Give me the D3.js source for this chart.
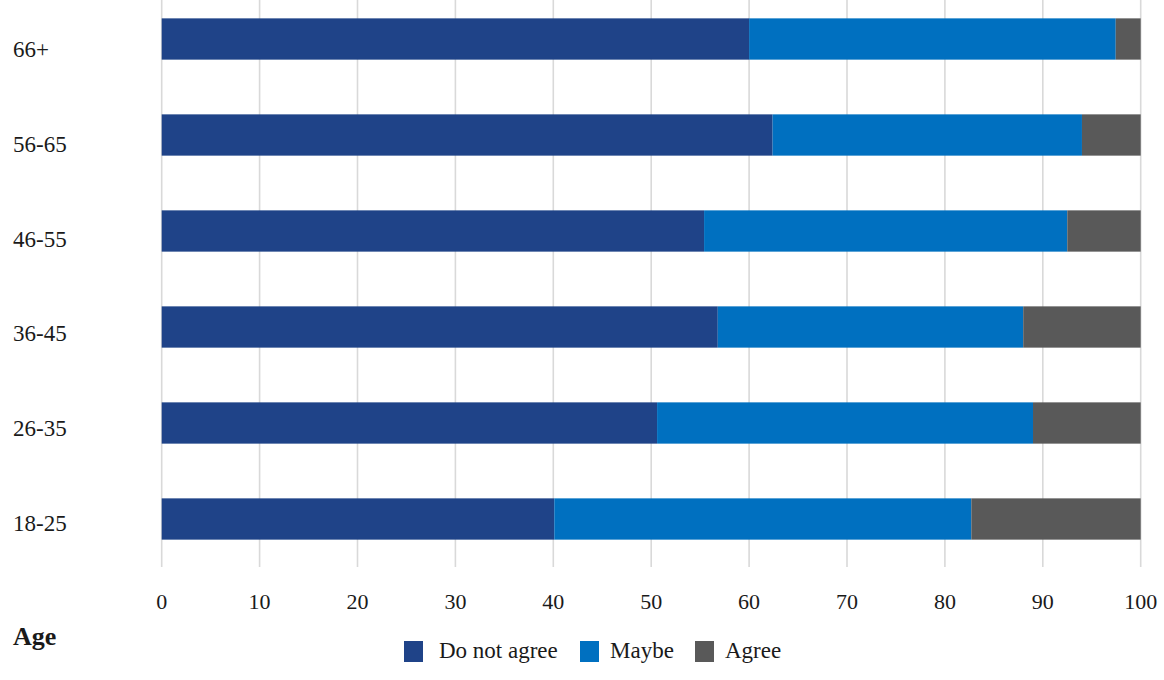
<!DOCTYPE html>
<html>
<head>
<meta charset="utf-8">
<script src="https://cdn.jsdelivr.net/npm/d3@7"></script>
<style>
  html, body { margin: 0; padding: 0; background: #ffffff; }
  svg { display: block; }
  text { font-family: "Liberation Serif", "DejaVu Serif", serif; fill: #1a1a1a; }
</style>
</head>
<body>
<svg id="chart" width="1164" height="680"></svg>
<script>
const categories = ["66+", "56-65", "46-55", "36-45", "26-35", "18-25"];
const seriesNames = ["Do not agree", "Maybe", "Agree"];
const doNotAgree = [60.0, 62.4, 55.4, 56.8, 50.6, 40.1];
const maybe      = [37.45, 31.6, 37.1, 31.2, 38.4, 42.6];
const agree      = [2.55, 6.0, 7.5, 12.0, 11.0, 17.3];
const xTicks = [0, 10, 20, 30, 40, 50, 60, 70, 80, 90, 100];
const colors = ["#1F4388", "#0070C0", "#595959"];

const rows = categories.map((c, i) => ({
  cat: c, "Do not agree": doNotAgree[i], "Maybe": maybe[i], "Agree": agree[i]
}));

const svg = d3.select("#chart");

const x = d3.scaleLinear().domain([0, 100]).range([161.7, 1140.7]);
const y = d3.scaleBand().domain(categories).range([-9, 567])
  .paddingInner(0.57).paddingOuter(0.285);
// label baselines (labels sit slightly apart from bar centres in the reference)
const yLabel = d3.scalePoint().domain(categories).range([57, 531]);

// gridlines
svg.append("g").selectAll("line").data(xTicks).join("line")
  .attr("x1", d => x(d)).attr("x2", d => x(d))
  .attr("y1", 0).attr("y2", 567)
  .attr("stroke", "#d9d9d9").attr("stroke-width", 1.6);

// stacked bars
const stack = d3.stack().keys(seriesNames)(rows);
svg.append("g").selectAll("g").data(stack).join("g")
  .attr("fill", (d, i) => colors[i])
  .selectAll("rect").data(d => d).join("rect")
  .attr("x", d => x(d[0]))
  .attr("width", d => x(d[1]) - x(d[0]))
  .attr("y", d => y(d.data.cat))
  .attr("height", y.bandwidth());

// y labels
svg.append("g").selectAll("text").data(categories).join("text")
  .attr("x", 13)
  .attr("y", d => yLabel(d))
  .attr("font-size", 23)
  .text(d => d);

// x tick labels
svg.append("g").selectAll("text").data(xTicks).join("text")
  .attr("x", d => x(d))
  .attr("y", 609)
  .attr("text-anchor", "middle")
  .attr("font-size", 22)
  .text(d => d);

// axis title
svg.append("text")
  .attr("x", 13).attr("y", 645)
  .attr("font-size", 26).attr("font-weight", "bold")
  .text("Age");

// legend
const legendPos = [
  { sx: 404, tx: 439 },
  { sx: 580, tx: 610 },
  { sx: 695, tx: 725 }
];
const lg = svg.append("g");
seriesNames.forEach((name, i) => {
  lg.append("rect")
    .attr("x", legendPos[i].sx).attr("y", 641)
    .attr("width", 19).attr("height", 21)
    .attr("fill", colors[i]);
  lg.append("text")
    .attr("x", legendPos[i].tx).attr("y", 658)
    .attr("font-size", 23)
    .text(name);
});
</script>
</body>
</html>
